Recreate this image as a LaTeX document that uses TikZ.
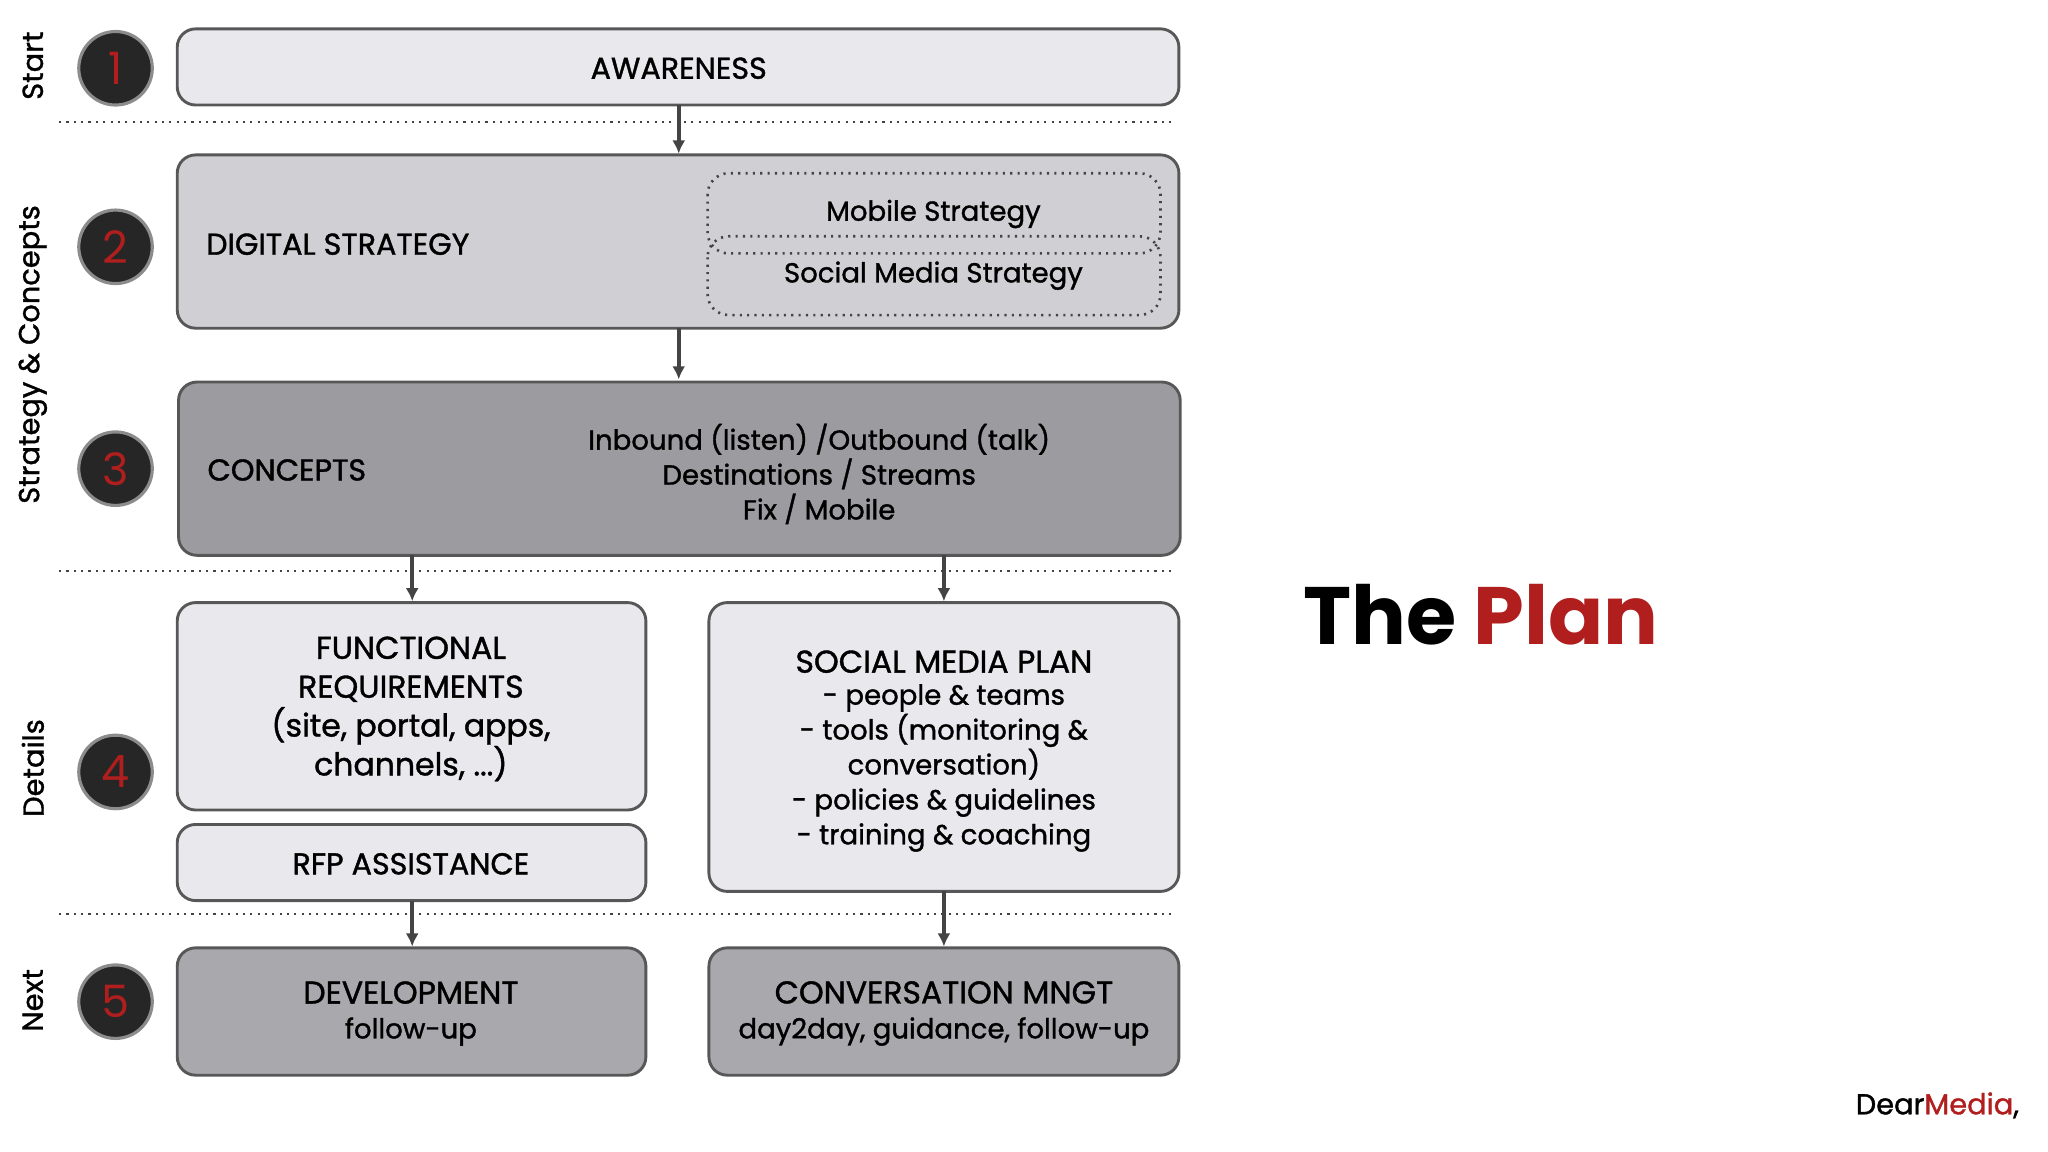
\documentclass[tikz,border=0pt]{standalone}
\usepackage{fontspec}
\setmainfont{Poppins}[BoldFont=Poppins,BoldFeatures={FakeBold=1.2}]
\newfontfamily\heavy{Poppins}[UprightFont=* Bold]
\usetikzlibrary{arrows.meta}
\definecolor{lt}{HTML}{E9E9ED}
\definecolor{md}{HTML}{D0D0D4}
\definecolor{dk}{HTML}{9C9CA0}
\definecolor{dv}{HTML}{A9A9AD}
\definecolor{rd}{HTML}{B01E1E}
\definecolor{ln}{HTML}{444444}
\begin{document}
\begin{tikzpicture}[x=0.5pt,y=-0.5pt,
 box/.style={draw=ln!90,line width=1.1pt,rounded corners=7pt},
 arr/.style={draw=ln,line width=1.5pt,-{Latex[length=5pt,width=5pt]}},
 sep/.style={draw=ln,line width=0.8pt,dotted},
 num/.style={circle,fill=black!85,draw=black!45,line width=1.2pt,minimum size=28pt,text=rd,font=\fontsize{17}{17}\selectfont},
 side/.style={rotate=90,font=\fontsize{11}{11}\selectfont\bfseries},
 t/.style={font=\fontsize{11.5}{13}\selectfont\bfseries,align=center},
 s/.style={font=\fontsize{10.5}{13.3}\selectfont\bfseries,align=center}]
\useasboundingbox (0,0) rectangle (1560,877.5);
% side labels
\node[side] (l1) at (25,50) {Start};
\node[side] (l2) at (25,270) {Strategy \& Concepts};
\node[side] (l3) at (25,585) {Details};
\node[side] (l4) at (25,762) {Next};
\node[num] (n1) at (88,52) {1};
\node[num] (n2) at (88,188) {2};
\node[num] (n3) at (88,357) {3};
\node[num] (n4) at (88,588) {4};
\node[num] (n5) at (88,763) {5};
% separators
\draw[sep] (45,93) -- (892,93);
\draw[sep] (45,435) -- (892,435);
\draw[sep] (45,696) -- (892,696);
% boxes
\draw[box,fill=lt] (135,22) rectangle (898,80);
\node[t] (aw) at (517,52) {AWARENESS};
\draw[box,fill=md] (135,118) rectangle (898,250);
\node[t,anchor=west] (ds) at (150,186) {DIGITAL STRATEGY};
\draw[sep,rounded corners=8pt,line width=1pt] (539,132) rectangle (884,193);
\draw[sep,rounded corners=8pt,line width=1pt] (539,180) rectangle (884,240);
\node[s] (ms) at (711,163) {Mobile Strategy};
\node[s] (ss) at (711,210) {Social Media Strategy};
\draw[box,fill=dk] (136,291) rectangle (899,423);
\node[t,anchor=west] (co) at (151,358) {CONCEPTS};
\node[s] (ct) at (624,361) {Inbound (listen) /Outbound (talk)\\Destinations / Streams\\Fix / Mobile};
\draw[box,fill=lt] (135,459) rectangle (492,617);
\node[font=\fontsize{12}{14.8}\selectfont\bfseries,align=center] (fr) at (313,540) {FUNCTIONAL\\REQUIREMENTS\\(site, portal, apps,\\channels, ...)};
\draw[box,fill=lt] (135,628) rectangle (492,686);
\node[t] (rfp) at (313,658) {RFP ASSISTANCE};
\draw[box,fill=lt] (540,459) rectangle (898,679);
\node[font=\fontsize{12}{14}\selectfont\bfseries] (smp) at (719,504) {SOCIAL MEDIA PLAN};
\node[s] (smt) at (719,585) {- people \& teams\\- tools (monitoring \&\\conversation)\\- policies \& guidelines\\- training \& coaching};
\draw[box,fill=dv] (135,722) rectangle (492,819);
\node[s] (dev) at (313,772) {\fontsize{12}{14}\selectfont DEVELOPMENT\\follow-up};
\draw[box,fill=dv] (540,722) rectangle (898,819);
\node[s] (cm) at (719,772) {\fontsize{12}{14}\selectfont CONVERSATION MNGT\\day2day, guidance, follow-up};
% arrows
\draw[arr] (517,80) -- (517,117);
\draw[arr] (517,250) -- (517,289);
\draw[arr] (314,423) -- (314,458);
\draw[arr] (719,423) -- (719,458);
\draw[arr] (314,686) -- (314,721);
\draw[arr] (719,679) -- (719,721);
% title
\node[font=\fontsize{31}{31}\selectfont\heavy] (tp) at (1128,468) {The \textcolor{rd}{Plan}};
\node[anchor=east,font=\fontsize{11}{11}\selectfont\bfseries] (dm) at (1545,842) {Dear\textcolor{rd}{Media},};
\end{tikzpicture}
\end{document}
